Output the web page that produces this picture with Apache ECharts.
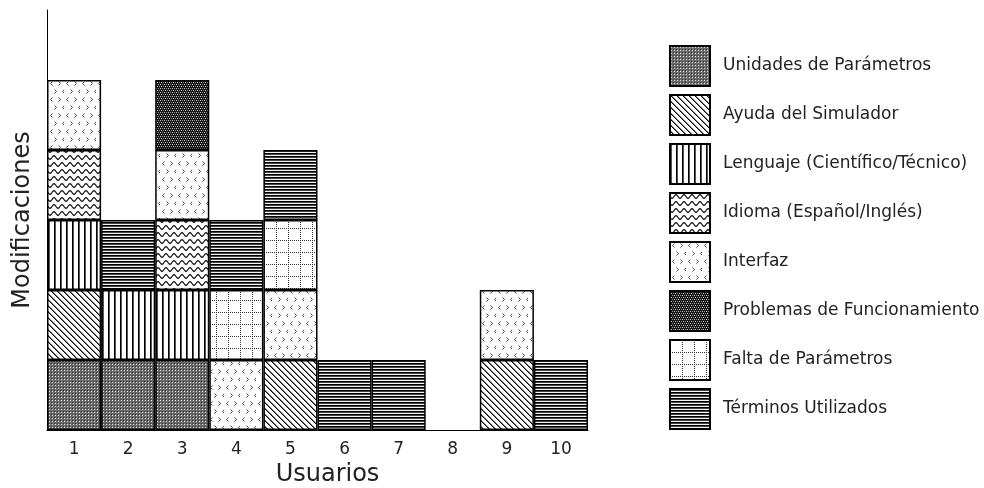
<!DOCTYPE html>
<html><head><meta charset="utf-8">
<script src="https://cdn.jsdelivr.net/npm/echarts@6/dist/echarts.min.js"></script>
<style>html,body{margin:0;padding:0;background:#fff}#c{width:984px;height:488px}</style>
</head><body><div id="c"></div>
<script>
// Data (1 = one modification of that type for the user, 0 = none)
const usuarios = ['1','2','3','4','5','6','7','8','9','10'];
const unidadesParametros   = [1,1,1,0,0,0,0,0,0,0];
const ayudaSimulador       = [1,0,0,0,1,0,0,0,1,0];
const lenguaje             = [1,1,1,0,0,0,0,0,0,0];
const idioma               = [1,0,1,0,0,0,0,0,0,0];
const interfaz             = [1,0,1,1,1,0,0,0,1,0];
const problemasFunc        = [0,0,1,0,0,0,0,0,0,0];
const faltaParametros      = [0,0,0,1,1,0,0,0,0,0];
const terminosUtilizados   = [0,1,0,1,1,1,1,0,0,1];
const seriesNames = ['Unidades de Parámetros','Ayuda del Simulador','Lenguaje (Científico/Técnico)','Idioma (Español/Inglés)','Interfaz','Problemas de Funcionamiento','Falta de Parámetros','Términos Utilizados'];
const seriesData = [unidadesParametros,ayudaSimulador,lenguaje,idioma,interfaz,problemasFunc,faltaParametros,terminosUtilizados];

function pat(w,h,draw){
  const c=document.createElement('canvas');c.width=w;c.height=h;
  const g=c.getContext('2d');g.fillStyle='#fff';g.fillRect(0,0,w,h);draw(g);
  return {image:c,repeat:'repeat'};
}
function px(g,x,y,col){g.fillStyle=col;g.fillRect(x,y,1,1);}
function lt(g,x,y){g.moveTo(x+2,y);g.lineTo(x,y+2);g.lineTo(x+2,y+4);}
function gt(g,x,y){g.moveTo(x,y);g.lineTo(x+2,y+2);g.lineTo(x,y+4);}
const patterns = [
  pat(3,3,g=>{g.fillStyle='#6a6a6a';g.fillRect(0,0,3,3);px(g,1,1,'#e0e0e0');px(g,0,0,'#333');}),
  pat(6,6,g=>{for(let i=0;i<6;i++){px(g,i,i,'#000');px(g,(i+1)%6,i,'#777');}}),
  pat(6,1,g=>{px(g,0,0,'#000');px(g,1,0,'#555');}),
  pat(8,7,g=>{g.strokeStyle='#111';g.lineWidth=1.2;g.beginPath();
    for(let x=-1;x<=9;x+=0.5){const y=3.5+1.8*Math.sin(2*Math.PI*x/8);if(x===-1)g.moveTo(x,y);else g.lineTo(x,y);}g.stroke();}),
  pat(16,16,g=>{g.strokeStyle='#444';g.lineWidth=1;g.beginPath();
    lt(g,2.5,1.5);gt(g,10.5,1.5);gt(g,6.5,9.5);lt(g,14.5,9.5);g.stroke();}),
  pat(4,4,g=>{g.fillStyle='#151515';g.fillRect(0,0,4,4);px(g,0,0,'#d0d0d0');px(g,2,0,'#909090');px(g,1,2,'#d0d0d0');px(g,3,2,'#909090');}),
  pat(12,12,g=>{for(let i=0;i<12;i+=2){px(g,i,0,'#333');px(g,0,i,'#333');}}),
  pat(1,3,g=>{px(g,0,0,'#000');px(g,0,1,'#444');px(g,0,2,'#f4f4f4');})
];

const chart = echarts.init(document.getElementById('c'));
const font = 'DejaVu Sans, Verdana, sans-serif';
chart.setOption({
  animation:false,
  backgroundColor:'#fff',
  grid:{left:47,right:396,top:10,bottom:58,containLabel:false,outerBoundsMode:'none'},
  legend:{orient:'vertical',left:669,top:45,padding:0,itemWidth:40,itemHeight:40,itemGap:7,icon:'rect',
    textStyle:{fontFamily:font,fontSize:17,color:'#222',padding:[0,0,0,8]},data:seriesNames},
  xAxis:{type:'category',data:usuarios,name:'Usuarios',nameLocation:'middle',nameGap:31,
    nameTextStyle:{fontFamily:font,fontSize:24,color:'#222',padding:[0,0,0,20]},
    axisLine:{lineStyle:{color:'#000',width:1}},axisTick:{show:false},
    axisLabel:{fontFamily:font,fontSize:17,color:'#222',margin:11}},
  yAxis:{type:'value',min:0,max:6,name:'Modificaciones',nameLocation:'middle',nameGap:12,
    nameTextStyle:{fontFamily:font,fontSize:24,color:'#222'},
    axisLine:{show:true,lineStyle:{color:'#000',width:1}},axisTick:{show:false},axisLabel:{show:false},splitLine:{show:false}},
  series: seriesNames.map((n,i)=>({
    name:n,type:'bar',stack:'total',barWidth:'100%',barCategoryGap:'0%',
    data:seriesData[i].map(v=>v===0?'-':v),
    itemStyle:{color:patterns[i],borderColor:'#000',borderWidth:1.5}
  }))
});
</script></body></html>
